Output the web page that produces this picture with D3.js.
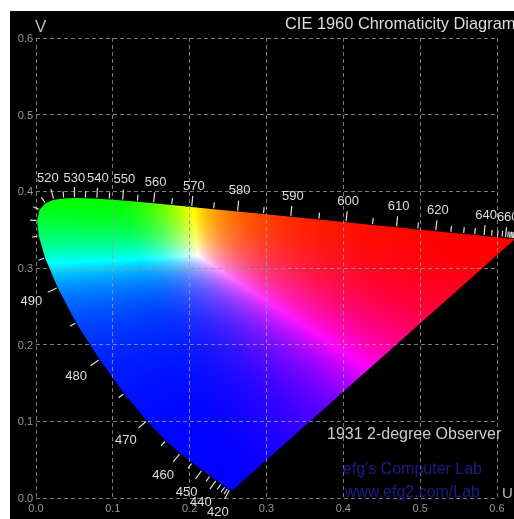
<!DOCTYPE html>
<html lang="en">
<head>
    <meta charset="utf-8">
    <title>CIE 1960 Chromaticity Diagram</title>
    <script src="https://cdn.jsdelivr.net/npm/d3@7"></script>
    <style>
        body { margin: 0; background: #fff; }
        #chart { position: relative; width: 514px; height: 519px; }
        #chart canvas, #chart svg { position: absolute; left: 0; top: 0; }
        text { font-family: "Liberation Sans", Arial, sans-serif; }
    </style>
</head>
<body>

<div id="chart"></div>

<script>
    // spectral locus, CIE 1960 UCS (u, v), 5 nm steps
    const wavelengths = [380, 385, 390, 395, 400, 405, 410, 415, 420, 425, 430, 435, 440, 445, 450, 455,
        460, 465, 470, 475, 480, 485, 490, 495, 500, 505, 510, 515, 520, 525, 530, 535, 540, 545, 550,
        555, 560, 565, 570, 575, 580, 585, 590, 595, 600, 605, 610, 615, 620, 625, 630, 635, 640, 645,
        650, 655, 660, 665, 670, 675, 680, 685, 690, 695, 700];
    const locusU = [0.2568, 0.2566, 0.2564, 0.2561, 0.2557, 0.2552, 0.2545, 0.2537, 0.2522, 0.2496,
        0.2461, 0.2411, 0.2347, 0.2266, 0.2161, 0.2033, 0.1877, 0.1690, 0.1441, 0.1147, 0.0828, 0.0521,
        0.0282, 0.0119, 0.0035, 0.0014, 0.0046, 0.0123, 0.0231, 0.0360, 0.0501, 0.0643, 0.0792, 0.0953,
        0.1127, 0.1319, 0.1531, 0.1766, 0.2026, 0.2312, 0.2623, 0.2960, 0.3315, 0.3681, 0.4035, 0.4379,
        0.4692, 0.4968, 0.5203, 0.5399, 0.5565, 0.5709, 0.5830, 0.5929, 0.6005, 0.6064, 0.6109, 0.6138,
        0.6162, 0.6180, 0.6199, 0.6215, 0.6226, 0.6231, 0.6234];
    const locusV = [0.0111, 0.0111, 0.0108, 0.0108, 0.0106, 0.0106, 0.0106, 0.0106, 0.0113, 0.0128,
        0.0151, 0.0186, 0.0233, 0.0291, 0.0366, 0.0459, 0.0581, 0.0746, 0.1007, 0.1362, 0.1806, 0.2285,
        0.2745, 0.3132, 0.3420, 0.3621, 0.3759, 0.3846, 0.3891, 0.3908, 0.3912, 0.3910, 0.3904, 0.3894,
        0.3880, 0.3864, 0.3844, 0.3821, 0.3796, 0.3767, 0.3736, 0.3703, 0.3667, 0.3631, 0.3596, 0.3561,
        0.3530, 0.3503, 0.3479, 0.3460, 0.3443, 0.3429, 0.3417, 0.3407, 0.3400, 0.3394, 0.3389, 0.3386,
        0.3384, 0.3382, 0.3380, 0.3378, 0.3377, 0.3377, 0.3377];

    // wavelengths that carry a number
    const labelledWavelengths = [420, 440, 450, 460, 470, 480, 490, 520, 530, 540, 550, 560, 570,
        580, 590, 600, 610, 620, 640, 660];

    // grid / axis ticks
    const gridTicks = [0, 0.1, 0.2, 0.3, 0.4, 0.5, 0.6];

    const W = 514, H = 519;

    const x = d3.scaleLinear().domain([0, 0.6]).range([36, 497]);
    const y = d3.scaleLinear().domain([0, 0.6]).range([498, 38]);

    const locus = wavelengths.map((w, i) => ({w: w, u: locusU[i], v: locusV[i]}));

    // ---- canvas: black panel + gamut colours
    const canvas = d3.select("#chart").append("canvas")
        .attr("width", W).attr("height", H).node();
    const ctx = canvas.getContext("2d");
    ctx.fillStyle = "#000";
    ctx.fillRect(10, 11, W - 10, H - 11);

    // u,v -> CIE RGB (equal-energy white), clipped and scaled so the largest channel is full
    function uvToRgb(u, v) {
        const d = 2 * u - 8 * v + 4;
        const cx = 3 * u / d, cy = 2 * v / d;
        const X = cx / cy, Y = 1, Z = (1 - cx - cy) / cy;
        let r = 2.3646 * X - 0.8965 * Y - 0.4681 * Z;
        let g = -0.5152 * X + 1.4264 * Y + 0.0887 * Z;
        let b = 0.0052 * X - 0.0144 * Y + 1.0092 * Z;
        r = Math.max(r, 0); g = Math.max(g, 0); b = Math.max(b, 0);
        const m = Math.max(r, g, b) || 1;
        const s = c => 255 * Math.pow(c / m, 1.5);
        return [s(r), s(g), s(b)];
    }

    const off = document.createElement("canvas");
    off.width = W; off.height = H;
    const octx = off.getContext("2d");
    const img = octx.createImageData(W, H);
    for (let py = 180; py < 500; py++) {
        for (let px = 30; px < W; px++) {
            const u = x.invert(px + 0.5), v = y.invert(py + 0.5);
            if (v <= 0.005) continue;
            const c = uvToRgb(u, v);
            const k = (py * W + px) * 4;
            img.data[k] = c[0];
            img.data[k + 1] = c[1];
            img.data[k + 2] = c[2];
            img.data[k + 3] = 255;
        }
    }
    octx.putImageData(img, 0, 0);

    ctx.save();
    ctx.beginPath();
    d3.line().x(d => x(d.u)).y(d => y(d.v)).context(ctx)(locus);
    ctx.closePath();
    ctx.clip();
    ctx.drawImage(off, 0, 0);
    ctx.restore();

    // ---- svg overlay
    const svg = d3.select("#chart").append("svg")
        .attr("width", W).attr("height", H);

    // dashed grid
    const grid = svg.append("g")
        .attr("stroke", "#9a9a9a")
        .attr("stroke-opacity", 0.8)
        .attr("stroke-width", 1)
        .attr("stroke-dasharray", "4,3")
        .attr("shape-rendering", "crispEdges");

    grid.selectAll(".vgrid")
        .data(gridTicks)
        .enter()
        .append("line")
            .attr("x1", d => x(d)).attr("x2", d => x(d))
            .attr("y1", y(0.6)).attr("y2", y(0));

    grid.selectAll(".hgrid")
        .data(gridTicks)
        .enter()
        .append("line")
            .attr("x1", x(0)).attr("x2", x(0.6))
            .attr("y1", d => y(d)).attr("y2", d => y(d));

    // axis numbers
    svg.selectAll(".ylab")
        .data(gridTicks)
        .enter()
        .append("text")
            .attr("x", x(0) - 3)
            .attr("y", d => y(d))
            .attr("dy", "0.35em")
            .attr("text-anchor", "end")
            .attr("font-size", 11)
            .attr("fill", "#999")
            .text(d => d.toFixed(1));

    svg.selectAll(".xlab")
        .data(gridTicks)
        .enter()
        .append("text")
            .attr("x", d => x(d))
            .attr("y", y(0) + 10)
            .attr("dy", "0.35em")
            .attr("text-anchor", "middle")
            .attr("font-size", 11)
            .attr("fill", "#999")
            .text(d => d.toFixed(1));

    svg.append("text")
        .attr("x", 35).attr("y", 32)
        .attr("font-size", 17)
        .attr("fill", "#bbb")
        .text("V");

    svg.append("text")
        .attr("x", 502).attr("y", 498)
        .attr("font-size", 15)
        .attr("fill", "#bbb")
        .text("U");

    // wavelength ticks along the locus
    function normalAt(i) {
        const a = locus[Math.max(i - 1, 0)], b = locus[Math.min(i + 1, locus.length - 1)];
        const dx = x(b.u) - x(a.u), dy = y(b.v) - y(a.v);
        const len = Math.hypot(dx, dy) || 1;
        return [dy / len, -dx / len];
    }

    const tickData = locus
        .map((d, i) => ({w: d.w, px: x(d.u), py: y(d.v), n: normalAt(i)}))
        .filter(d => d.w >= 420);

    svg.append("g")
        .attr("stroke", "#ddd")
        .attr("stroke-width", 1.2)
        .selectAll("line")
        .data(tickData)
        .enter()
        .append("line")
            .attr("x1", d => d.px + d.n[0])
            .attr("y1", d => d.py + d.n[1])
            .attr("x2", d => d.px + d.n[0] * (labelledWavelengths.includes(d.w) ? 11 : 7))
            .attr("y2", d => d.py + d.n[1] * (labelledWavelengths.includes(d.w) ? 11 : 7));

    svg.append("g")
        .selectAll("text")
        .data(tickData.filter(d => labelledWavelengths.includes(d.w)))
        .enter()
        .append("text")
            .attr("x", d => d.px + d.n[0] * (21 + 9 * Math.abs(d.n[0])))
            .attr("y", d => d.py + d.n[1] * (21 + 9 * Math.abs(d.n[0])))
            .attr("dy", "0.35em")
            .attr("text-anchor", "middle")
            .attr("font-size", 13)
            .attr("fill", "#ddd")
            .text(d => d.w);

    // titles
    svg.append("text")
        .attr("x", 285).attr("y", 29)
        .attr("font-size", 16.4)
        .attr("fill", "#ddd")
        .text("CIE 1960 Chromaticity Diagram");

    svg.append("text")
        .attr("x", 327).attr("y", 439)
        .attr("font-size", 16)
        .attr("fill", "#ccc")
        .text("1931 2-degree Observer");

    svg.append("text")
        .attr("x", 482).attr("y", 474)
        .attr("text-anchor", "end")
        .attr("font-size", 16)
        .attr("fill", "#1c1c8c")
        .text("efg's Computer Lab");

    svg.append("text")
        .attr("x", 480).attr("y", 497)
        .attr("text-anchor", "end")
        .attr("font-size", 16)
        .attr("fill", "#1c1c8c")
        .text("www.efg2.com/Lab");
</script>

</body>
</html>
